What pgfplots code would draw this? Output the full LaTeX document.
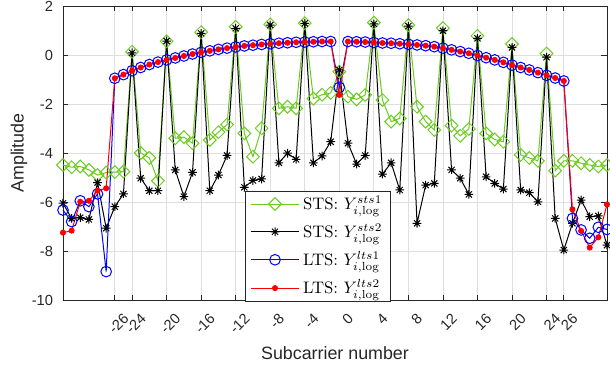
\documentclass[border=0pt]{standalone}
\usepackage{fontspec}
\usepackage{pgfplots}
\pgfplotsset{compat=1.18}
\usepackage{pgfplotstable}
\newfontfamily\arial{Liberation Sans}

\definecolor{stsgreen}{rgb}{0.42,0.80,0.12}
\definecolor{axgray}{rgb}{0.15,0.15,0.15}
\definecolor{gridgray}{rgb}{0.875,0.875,0.875}

% eight-armed asterisk (plus and cross combined)
\pgfdeclareplotmark{ast8}{%
  \pgfpathmoveto{\pgfqpoint{-\pgfplotmarksize}{0pt}}%
  \pgfpathlineto{\pgfqpoint{\pgfplotmarksize}{0pt}}%
  \pgfpathmoveto{\pgfqpoint{0pt}{-\pgfplotmarksize}}%
  \pgfpathlineto{\pgfqpoint{0pt}{\pgfplotmarksize}}%
  \pgfpathmoveto{\pgfqpoint{-.707\pgfplotmarksize}{-.707\pgfplotmarksize}}%
  \pgfpathlineto{\pgfqpoint{.707\pgfplotmarksize}{.707\pgfplotmarksize}}%
  \pgfpathmoveto{\pgfqpoint{-.707\pgfplotmarksize}{.707\pgfplotmarksize}}%
  \pgfpathlineto{\pgfqpoint{.707\pgfplotmarksize}{-.707\pgfplotmarksize}}%
  \pgfusepathqstroke}

% per-subcarrier amplitudes (log scale) of the four training fields
\pgfplotstableread{
k    sts1   sts2   lts1   lts2
-32  -4.49  -6.05  -6.33  -7.25
-31  -4.58  -6.67  -6.80  -7.17
-30  -4.55  -6.64  -5.95  -5.99
-29  -4.69  -6.71  -6.19  -5.95
-28  -4.90  -5.21  -5.67  -5.54
-27  -4.80  -7.07  -8.84  -5.44
-26  -4.78  -6.19  -0.95  -0.95
-25  -4.76  -5.67  -0.80  -0.80
-24   0.13   0.09  -0.64  -0.64
-23  -4.00  -5.03  -0.51  -0.51
-22  -4.20  -5.54  -0.39  -0.39
-21  -5.13  -5.54  -0.29  -0.29
-20   0.56   0.57  -0.20  -0.20
-19  -3.40  -4.69  -0.12  -0.12
-18  -3.35  -5.78  -0.04  -0.04
-17  -3.60  -4.79   0.04   0.04
-16   0.93   0.88   0.11   0.11
-15  -3.47  -5.54   0.17   0.17
-14  -3.15  -4.90   0.23   0.23
-13  -2.84  -4.10   0.28   0.28
-12   1.15   1.09   0.33   0.33
-11  -3.20  -5.40   0.37   0.37
-10  -4.15  -5.12   0.40   0.40
 -9  -2.99  -5.06   0.43   0.43
 -8   1.25   1.22   0.46   0.46
 -7  -2.18  -4.40   0.48   0.48
 -6  -2.11  -4.01   0.50   0.50
 -5  -2.18  -4.26   0.52   0.52
 -4   1.30   1.29   0.53   0.53
 -3  -1.78  -4.40   0.54   0.54
 -2  -1.62  -4.12   0.55   0.55
 -1  -1.55  -3.54   0.55   0.55
  0  -0.68  -0.61  -1.32  -1.63
  1  -1.70  -3.60   0.55   0.55
  2  -1.81  -4.45   0.54   0.54
  3  -1.63  -4.10   0.53   0.53
  4   1.32   1.27   0.51   0.51
  5  -1.84  -4.86   0.49   0.49
  6  -2.72  -4.40   0.48   0.48
  7  -2.59  -5.51   0.46   0.46
  8   1.22   1.18   0.44   0.44
  9  -2.11  -6.87   0.41   0.41
 10  -2.72  -5.31   0.38   0.38
 11  -3.06  -5.24   0.34   0.34
 12   1.10   0.99   0.28   0.28
 13  -2.88  -4.69   0.21   0.21
 14  -3.30  -5.03   0.14   0.14
 15  -3.02  -5.69   0.07   0.07
 16   0.78   0.68  -0.02  -0.02
 17  -3.20  -4.97  -0.11  -0.11
 18  -3.45  -5.24  -0.20  -0.20
 19  -3.54  -5.47  -0.30  -0.30
 20   0.45   0.31  -0.41  -0.41
 21  -4.08  -5.51  -0.51  -0.51
 22  -4.20  -5.62  -0.61  -0.61
 23  -4.32  -5.99  -0.72  -0.72
 24   0.06  -0.09  -0.83  -0.83
 25  -4.72  -6.67  -0.94  -0.94
 26  -4.32  -7.96  -1.06  -1.06
 27  -4.32  -6.87  -6.67  -6.30
 28  -4.42  -5.92  -7.14  -7.18
 29  -4.49  -6.60  -7.48  -7.86
 30  -4.55  -6.57  -7.03  -7.44
 31  -4.49  -7.76  -7.12  -6.10
}\amptab

\begin{document}
\begin{tikzpicture}
\begin{axis}[
  at={(0pt,0pt)}, anchor=south west,
  scale only axis, width=326.4pt, height=176.4pt,
  xmin=-32, xmax=31, ymin=-10, ymax=2,
  xtick={-26,-24,-20,-16,-12,-8,-4,0,4,8,12,16,20,24,26},
  ytick={-10,-8,-6,-4,-2,0,2},
  clip=false,
  grid=major,
  major grid style={gridgray, line width=0.5pt},
  axis line style={axgray, line width=0.5pt},
  tick style={axgray, line width=0.5pt},
  tick align=inside, major tick length=3.3pt,
  /pgf/number format/assume math mode=true,
  ticklabel style={font=\arial\fontsize{8.8}{10}\selectfont, text=axgray},
  xticklabel style={xshift=6.9pt, yshift=-9.6pt, rotate=45, anchor=east, inner sep=0pt},
  yticklabel style={xshift=-5.8pt, anchor=east, inner sep=0pt},
  xlabel={Subcarrier number}, ylabel={Amplitude},
  label style={font=\arial\fontsize{10.7}{12}\selectfont, text=axgray},
  xlabel style={at={(rel axis cs:0.5,0)}, anchor=base, yshift=-35.8pt},
  ylabel style={at={(rel axis cs:0,0.5)}, anchor=center, yshift=26.4pt},
  legend cell align=left,
  legend style={at={(0.3346,-0.006)}, anchor=south west, draw=axgray,
    fill=white, font=\fontsize{10}{12}\selectfont, row sep=3pt,
    inner xsep=3pt, inner ysep=1pt},
  legend image code/.code={%
    \draw[mark repeat=2, mark phase=2] plot coordinates {(0pt,0pt) (14.5pt,0pt) (29pt,0pt)};},
]
\addplot[stsgreen, line width=0.6pt, mark=square, mark size=2.7pt,
  mark options={rotate=45, solid}] table[x=k, y=sts1] {\amptab};
\addlegendentry{STS: $Y_{i,\log}^{sts1}$}
\addplot[black, line width=0.6pt, mark=ast8, mark size=2.6pt]
  table[x=k, y=sts2] {\amptab};
\addlegendentry{STS: $Y_{i,\log}^{sts2}$}
\addplot[blue, line width=0.6pt, mark=o, mark size=3.2pt]
  table[x=k, y=lts1] {\amptab};
\addlegendentry{LTS: $Y_{i,\log}^{lts1}$}
\addplot[red, line width=0.6pt, mark=*, mark size=1.5pt]
  table[x=k, y=lts2] {\amptab};
\addlegendentry{LTS: $Y_{i,\log}^{lts2}$}
\end{axis}
\pgfresetboundingbox
\path[use as bounding box] (-37.8pt,-42pt) rectangle (328.2pt,180pt);
\end{tikzpicture}
\end{document}
